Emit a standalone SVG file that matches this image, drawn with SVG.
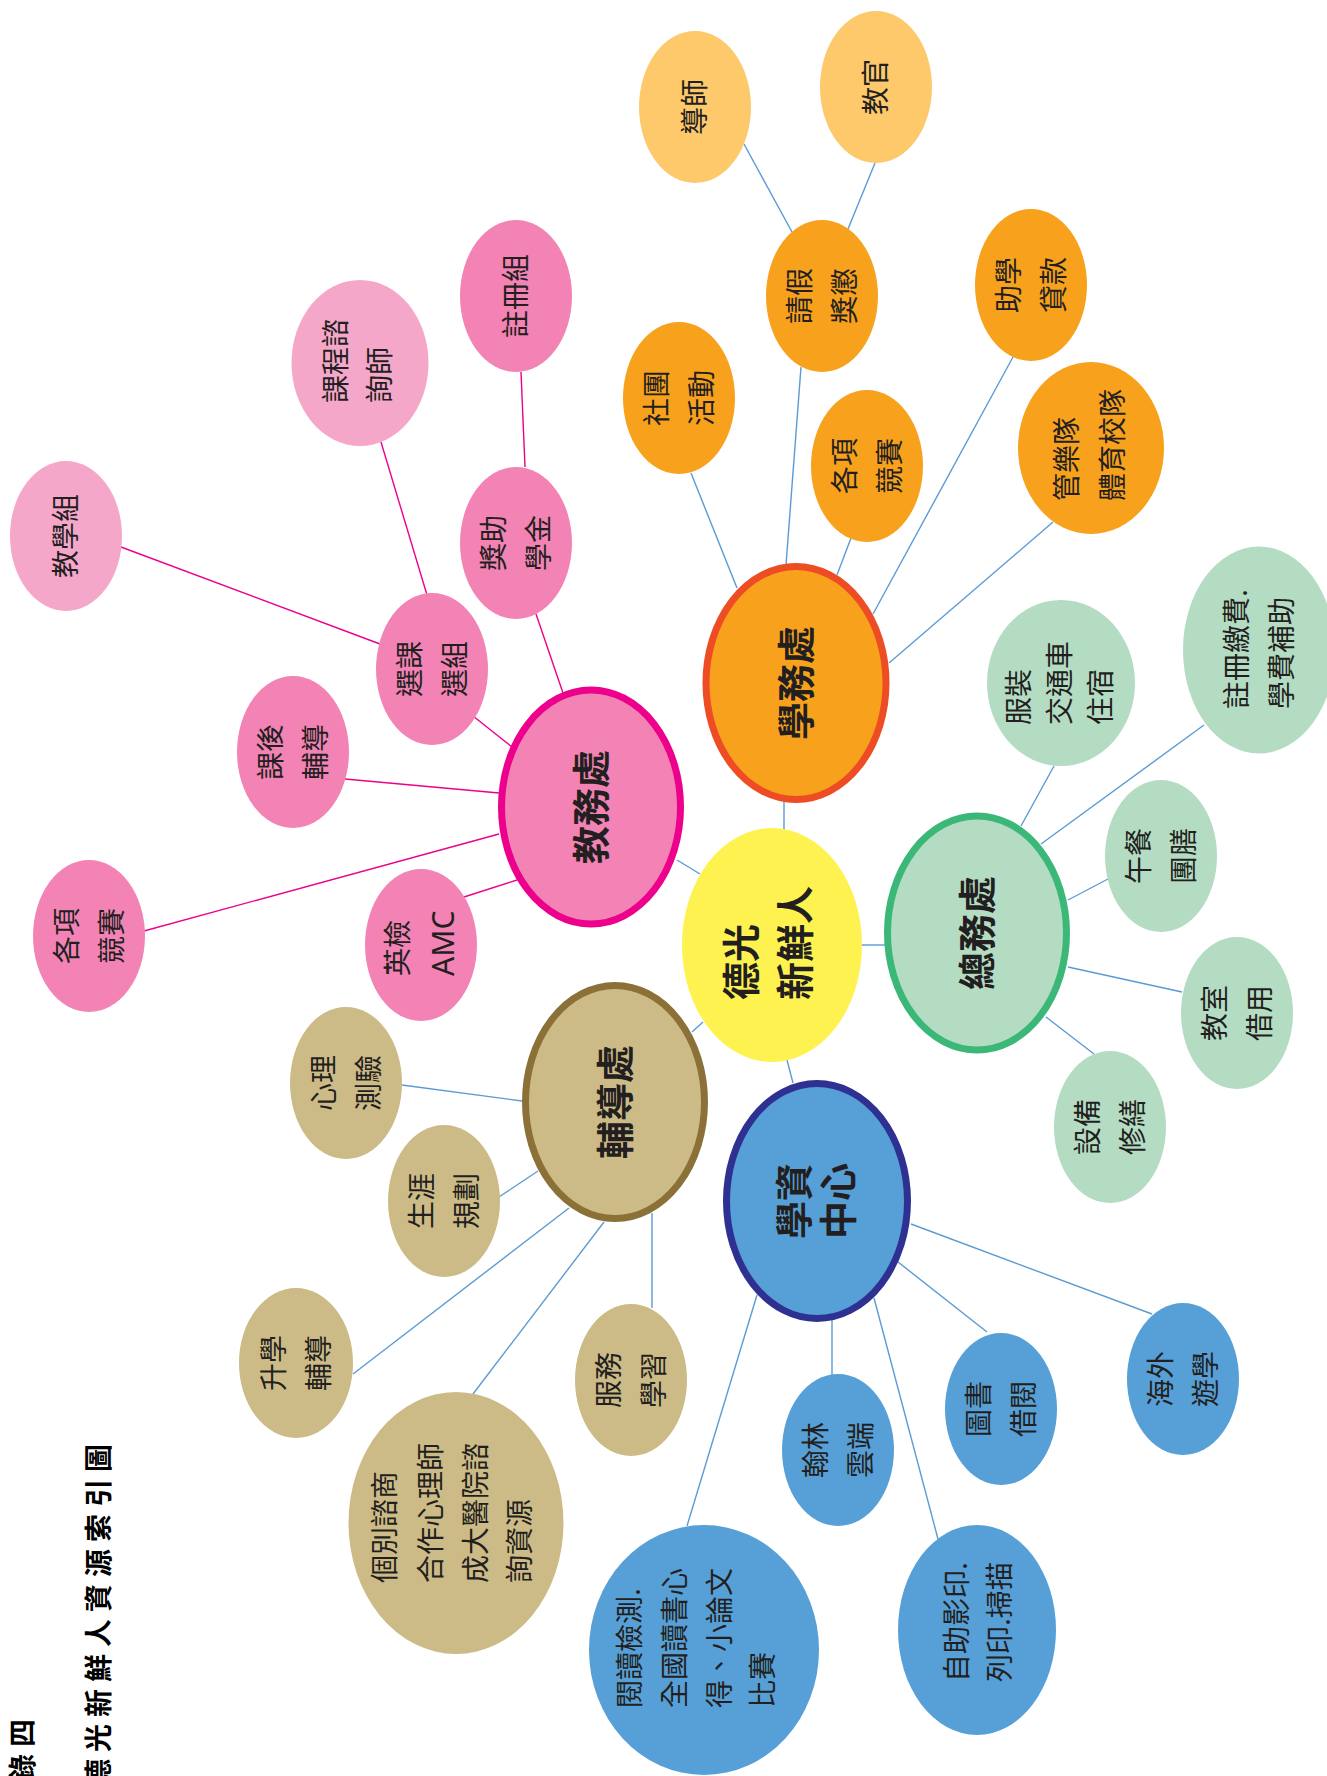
<svg xmlns="http://www.w3.org/2000/svg" width="1327" height="1776" viewBox="0 0 1327 1776">
<style>
.ln{stroke:#5B9BD5;stroke-width:1.4;fill:none}
.lp{stroke:#EC008C;stroke-width:1.4;fill:none}
text{font-family:"Noto Sans CJK TC","Noto Sans CJK SC",sans-serif;fill:#231F20}
.t{font-size:28px}
.tb{font-size:38px;font-weight:700}
.ti{font-size:28px;font-weight:700;letter-spacing:7px;fill:#000}
.lat{font-family:"Noto Sans","Liberation Sans",sans-serif;font-size:30px}
.o1{fill:#FDC96B}.o2{fill:#F7A11D}
.p1{fill:#F5A7CA}.p2{fill:#F283B4}
.g{fill:#B3DCC3}.k{fill:#CCBB86}.b{fill:#56A0D7}
.main{stroke-width:7}
</style>
<rect width="1327" height="1776" fill="#fff"/>
<g id="title">
<text class="ti" transform="rotate(-90)" x="-1817" y="33">附錄四</text>
<text class="ti" transform="rotate(-90)" x="-1787" y="109">德光新鮮人資源索引圖</text>
</g>
<g id="connectors">
<line class="ln" x1="744" y1="144" x2="792" y2="232"/>
<line class="ln" x1="875" y1="163" x2="848" y2="229"/>
<line class="ln" x1="801" y1="367" x2="786" y2="565"/>
<line class="ln" x1="691" y1="473" x2="737" y2="588"/>
<line class="ln" x1="851" y1="538" x2="837" y2="575"/>
<line class="ln" x1="1013" y1="357" x2="873" y2="614"/>
<line class="ln" x1="1053" y1="522" x2="889" y2="663"/>
<line class="ln" x1="784" y1="800" x2="784" y2="830"/>
<line class="ln" x1="677" y1="860" x2="700" y2="874"/>
<line class="ln" x1="1054" y1="766" x2="1021" y2="826"/>
<line class="ln" x1="1204" y1="725" x2="1041" y2="844"/>
<line class="ln" x1="1108" y1="879" x2="1068" y2="900"/>
<line class="ln" x1="1182" y1="992" x2="1068" y2="967"/>
<line class="ln" x1="1094" y1="1054" x2="1046" y2="1017"/>
<line class="ln" x1="860" y1="945" x2="886" y2="945"/>
<line class="ln" x1="402" y1="1085" x2="522" y2="1101"/>
<line class="ln" x1="499" y1="1197" x2="538" y2="1171"/>
<line class="ln" x1="353" y1="1374" x2="569" y2="1208"/>
<line class="ln" x1="473" y1="1394" x2="604" y2="1222"/>
<line class="ln" x1="652" y1="1213" x2="652" y2="1308"/>
<line class="ln" x1="692" y1="1032" x2="703" y2="1022"/>
<line class="ln" x1="832" y1="1318" x2="832" y2="1376"/>
<line class="ln" x1="987" y1="1332" x2="898" y2="1262"/>
<line class="ln" x1="1152" y1="1314" x2="911" y2="1224"/>
<line class="ln" x1="687" y1="1526" x2="757" y2="1295"/>
<line class="ln" x1="938" y1="1539" x2="874" y2="1298"/>
<line class="ln" x1="787" y1="1060" x2="793" y2="1083"/>
<line class="lp" x1="521" y1="372" x2="525" y2="467"/>
<line class="lp" x1="381" y1="442" x2="427" y2="595"/>
<line class="lp" x1="121" y1="547" x2="380" y2="644"/>
<line class="lp" x1="536" y1="614" x2="563" y2="693"/>
<line class="lp" x1="473" y1="716" x2="512" y2="747"/>
<line class="lp" x1="345" y1="779" x2="499" y2="793"/>
<line class="lp" x1="144" y1="931" x2="499" y2="834"/>
<line class="lp" x1="464" y1="897" x2="517" y2="880"/>
</g>
<g id="n-daoshi"><ellipse class="o1" cx="695" cy="107" rx="56" ry="76"/><text class="t" transform="translate(695,107) rotate(-90)" x="-28" y="10">導師</text></g>
<g id="n-jiaoguan"><ellipse class="o1" cx="876" cy="87" rx="56" ry="76"/><text class="t" transform="translate(876,87) rotate(-90)" x="-28" y="10">教官</text></g>
<g id="n-qingjia"><ellipse class="o2" cx="822" cy="296" rx="56" ry="76"/><text class="t" transform="translate(822,296) rotate(-90)"><tspan x="-28" y="-12.5">請假</tspan><tspan x="-28" y="32.5">獎懲</tspan></text></g>
<g id="n-zhuxue"><ellipse class="o2" cx="1031" cy="285" rx="56" ry="76"/><text class="t" transform="translate(1031,285) rotate(-90)"><tspan x="-28" y="-12.5">助學</tspan><tspan x="-28" y="32.5">貸款</tspan></text></g>
<g id="n-shetuan"><ellipse class="o2" cx="679" cy="398" rx="56" ry="76"/><text class="t" transform="translate(679,398) rotate(-90)"><tspan x="-28" y="-12.5">社團</tspan><tspan x="-28" y="32.5">活動</tspan></text></g>
<g id="n-jingsai-o"><ellipse class="o2" cx="867" cy="466" rx="56" ry="76"/><text class="t" transform="translate(867,466) rotate(-90)"><tspan x="-28" y="-12.5">各項</tspan><tspan x="-28" y="32.5">競賽</tspan></text></g>
<g id="n-guanyue"><ellipse class="o2" cx="1091" cy="448" rx="73" ry="86"/><text class="t" transform="translate(1091,448) rotate(-90)"><tspan x="-53" y="-14">管樂隊</tspan><tspan x="-53" y="32">體育校隊</tspan></text></g>
<g id="n-xuewu"><ellipse cx="796" cy="683" rx="90" ry="116.5" fill="#F7A11D" stroke="#EE4C24" class="main"/><text class="tb" transform="translate(796,683) rotate(-90)" x="-57" y="14">學務處</text></g>
<g id="n-jiaoxue"><ellipse class="p1" cx="66" cy="536" rx="56" ry="75"/><text class="t" transform="translate(66,536) rotate(-90)" x="-42" y="10">教學組</text></g>
<g id="n-kecheng"><ellipse class="p1" cx="360" cy="363" rx="68.5" ry="83"/><text class="t" transform="translate(360,363) rotate(-90)"><tspan x="-40" y="-14">課程諮</tspan><tspan x="-40" y="30">詢師</tspan></text></g>
<g id="n-zhuce"><ellipse class="p2" cx="516" cy="296" rx="56" ry="76"/><text class="t" transform="translate(516,296) rotate(-90)" x="-42" y="10">註冊組</text></g>
<g id="n-jiangzhu"><ellipse class="p2" cx="516" cy="543" rx="56" ry="76"/><text class="t" transform="translate(516,543) rotate(-90)"><tspan x="-28" y="-12.5">獎助</tspan><tspan x="-28" y="32.5">學金</tspan></text></g>
<g id="n-xuanke"><ellipse class="p2" cx="432" cy="669" rx="56" ry="76"/><text class="t" transform="translate(432,669) rotate(-90)"><tspan x="-28" y="-12.5">選課</tspan><tspan x="-28" y="32.5">選組</tspan></text></g>
<g id="n-kehou"><ellipse class="p2" cx="293" cy="752" rx="56" ry="76"/><text class="t" transform="translate(293,752) rotate(-90)"><tspan x="-28" y="-12.5">課後</tspan><tspan x="-28" y="32.5">輔導</tspan></text></g>
<g id="n-jingsai-p"><ellipse class="p2" cx="89" cy="936" rx="56" ry="76"/><text class="t" transform="translate(89,936) rotate(-90)"><tspan x="-28" y="-12.5">各項</tspan><tspan x="-28" y="32.5">競賽</tspan></text></g>
<g id="n-yingjian"><ellipse class="p2" cx="421" cy="945" rx="56" ry="76"/><text class="t" transform="translate(421,945) rotate(-90)"><tspan x="-31" y="-13">英檢</tspan><tspan class="lat" x="-31" y="33">AMC</tspan></text></g>
<g id="n-jiaowu"><ellipse cx="591" cy="807" rx="89.5" ry="117" fill="#F283B4" stroke="#EC008C" class="main"/><text class="tb" transform="translate(591,807) rotate(-90)" x="-57" y="14">教務處</text></g>
<g id="n-fuzhuang"><ellipse class="g" cx="1061" cy="683" rx="74" ry="83"/><text class="t" transform="translate(1061,683) rotate(-90)"><tspan x="-42" y="-32">服裝</tspan><tspan x="-42" y="9">交通車</tspan><tspan x="-42" y="50">住宿</tspan></text></g>
<g id="n-jiaofei"><ellipse class="g" cx="1259" cy="650" rx="76" ry="103.5"/><text class="t" transform="translate(1259,650) rotate(-90)"><tspan x="-59" y="-12">註冊繳費.</tspan><tspan x="-59" y="33">學費補助</tspan></text></g>
<g id="n-wucan"><ellipse class="g" cx="1161" cy="856" rx="56" ry="76"/><text class="t" transform="translate(1161,856) rotate(-90)"><tspan x="-28" y="-12.5">午餐</tspan><tspan x="-28" y="32.5">團膳</tspan></text></g>
<g id="n-jiaoshi"><ellipse class="g" cx="1237" cy="1013" rx="56" ry="76"/><text class="t" transform="translate(1237,1013) rotate(-90)"><tspan x="-28" y="-12.5">教室</tspan><tspan x="-28" y="32.5">借用</tspan></text></g>
<g id="n-shebei"><ellipse class="g" cx="1110" cy="1127" rx="56" ry="76"/><text class="t" transform="translate(1110,1127) rotate(-90)"><tspan x="-28" y="-12.5">設備</tspan><tspan x="-28" y="32.5">修繕</tspan></text></g>
<g id="n-zongwu"><ellipse cx="977" cy="933" rx="89.5" ry="117" fill="#B3DCC3" stroke="#3BB878" class="main"/><text class="tb" transform="translate(977,933) rotate(-90)" x="-57" y="14">總務處</text></g>
<g id="n-xinli"><ellipse class="k" cx="346" cy="1083" rx="56" ry="76"/><text class="t" transform="translate(346,1083) rotate(-90)"><tspan x="-28" y="-12.5">心理</tspan><tspan x="-28" y="32.5">測驗</tspan></text></g>
<g id="n-shengya"><ellipse class="k" cx="444" cy="1201" rx="56" ry="76"/><text class="t" transform="translate(444,1201) rotate(-90)"><tspan x="-28" y="-12.5">生涯</tspan><tspan x="-28" y="32.5">規劃</tspan></text></g>
<g id="n-shengxue"><ellipse class="k" cx="296" cy="1363" rx="57" ry="75"/><text class="t" transform="translate(296,1363) rotate(-90)"><tspan x="-28" y="-12.5">升學</tspan><tspan x="-28" y="32.5">輔導</tspan></text></g>
<g id="n-gebie"><ellipse class="k" cx="456" cy="1523" rx="107.5" ry="131"/><text class="t" transform="translate(456,1523) rotate(-90)"><tspan x="-60" y="-61">個別諮商</tspan><tspan x="-60" y="-15">合作心理師</tspan><tspan x="-60" y="30">成大醫院諮</tspan><tspan x="-60" y="74">詢資源</tspan></text></g>
<g id="n-fuwu"><ellipse class="k" cx="631" cy="1380" rx="56" ry="76"/><text class="t" transform="translate(631,1380) rotate(-90)"><tspan x="-28" y="-12.5">服務</tspan><tspan x="-28" y="32.5">學習</tspan></text></g>
<g id="n-fudao"><ellipse cx="615" cy="1102" rx="89.5" ry="116.5" fill="#CCBB86" stroke="#8B7137" class="main"/><text class="tb" transform="translate(615,1102) rotate(-90)" x="-57" y="14">輔導處</text></g>
<g id="n-hanlin"><ellipse class="b" cx="838" cy="1450" rx="56" ry="76"/><text class="t" transform="translate(838,1450) rotate(-90)"><tspan x="-28" y="-12.5">翰林</tspan><tspan x="-28" y="32.5">雲端</tspan></text></g>
<g id="n-tushu"><ellipse class="b" cx="1001" cy="1409" rx="56" ry="76"/><text class="t" transform="translate(1001,1409) rotate(-90)"><tspan x="-28" y="-12.5">圖書</tspan><tspan x="-28" y="32.5">借閱</tspan></text></g>
<g id="n-haiwai"><ellipse class="b" cx="1183" cy="1379" rx="56" ry="76"/><text class="t" transform="translate(1183,1379) rotate(-90)"><tspan x="-28" y="-12.5">海外</tspan><tspan x="-28" y="32.5">遊學</tspan></text></g>
<g id="n-yuedu"><ellipse class="b" cx="704" cy="1650" rx="115" ry="125"/><text class="t" transform="translate(704,1650) rotate(-90)"><tspan x="-58" y="-64">閱讀檢測.</tspan><tspan x="-58" y="-19">全國讀書心</tspan><tspan x="-58" y="26">得、小論文</tspan><tspan x="-58" y="69">比賽</tspan></text></g>
<g id="n-zizhu"><ellipse class="b" cx="977" cy="1630" rx="79" ry="105"/><text class="t" transform="translate(977,1630) rotate(-90)"><tspan x="-52" y="-10">自助影印.</tspan><tspan x="-52" y="33">列印.掃描</tspan></text></g>
<g id="n-xuezi"><ellipse cx="817" cy="1201" rx="90.5" ry="117.5" fill="#56A0D7" stroke="#2E3192" class="main"/><text class="tb" transform="translate(817,1201) rotate(-90)"><tspan x="-38" y="-9">學資</tspan><tspan x="-38" y="35">中心</tspan></text></g>
<g id="n-center"><ellipse cx="772" cy="945" rx="90" ry="117" fill="#FEF251"/><text class="tb" transform="translate(772,945) rotate(-90)"><tspan x="-55" y="-17">德光</tspan><tspan x="-55" y="37">新鮮人</tspan></text></g>
</svg>
